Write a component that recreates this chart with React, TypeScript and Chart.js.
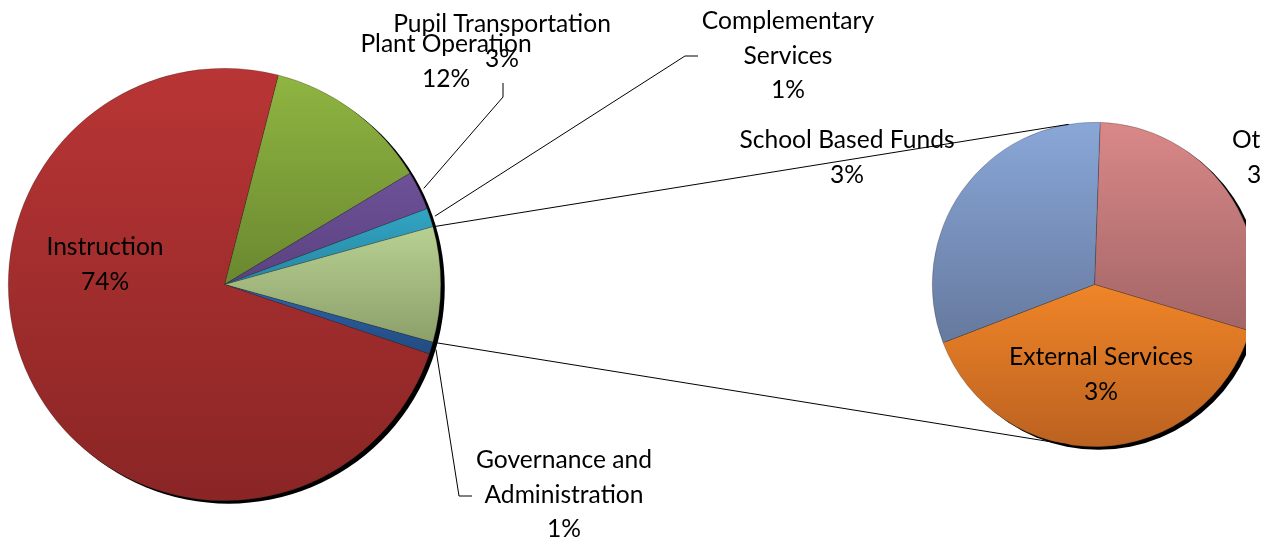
import React, { useEffect, useRef } from "react";
import { Chart, registerables } from "chart.js";

Chart.register(...registerables);

// ---------- DATA ----------
// Second pie (breakdown of the main pie's "Other" slice), clockwise from its rotation start
const subCategories = ["Other", "External Services", "School Based Funds"];
const subValues = [2.5, 3.4, 2.7];
const otherTotal = subValues.reduce((a, b) => a + b, 0);

// Main pie, clockwise starting from Plant Operation
const mainCategories = [
  "Plant Operation",
  "Pupil Transportation",
  "Complementary Services",
  "Other",
  "Governance and Administration",
  "Instruction",
];
const mainValues = [12.4, 2.9, 1.4, otherTotal, 0.9, 73.8];
const OTHER_INDEX = 3;

// ---------- STYLE ----------
const mainTopColors = ["#8fb541", "#6e5198", "#31a5c3", "#b8d192", "#2e63a8", "#b93535"];
const mainBottomColors = ["#6a8830", "#5a4280", "#2886a2", "#8c9f6a", "#224b80", "#8a2525"];
const subTopColors = ["#da8888", "#f08528", "#89a7d8"];
const subBottomColors = ["#a36566", "#bb6120", "#66799e"];

const FONT = "24.6px Lato";
const LINE_H = 34.5;
const SUB_ROTATION = 2;

// label layout (center x, first baseline y) and wrapping
const labelWraps: Record<string, string[]> = {
  "Complementary Services": ["Complementary", "Services"],
  "Governance and Administration": ["Governance and", "Administration"],
};
const mainLabelPos: (number[] | null)[] = [
  [446, 52],
  [502, 32],
  [788, 29],
  null,
  [564, 468],
  [105, 255],
];
const subLabelPos: number[][] = [
  [1264, 148],
  [1101, 365],
  [847, 148],
];
const leaderElbows: Record<number, number[][]> = {
  1: [[503, 97], [503, 83]],
  2: [[685, 56], [698, 56]],
  4: [[459, 496], [472, 496]],
};

const total = mainValues.reduce((a, b) => a + b, 0);
const pct = (v: number) => Math.round((v / total) * 100) + "%";
const mainRotation =
  90 -
  ((mainValues.slice(0, OTHER_INDEX).reduce((a, b) => a + b, 0) + mainValues[OTHER_INDEX] / 2) /
    total) *
    360;

function sliceGradient(
  c: any,
  values: number[],
  rotationDeg: number,
  tops: string[],
  bottoms: string[]
) {
  const i = c.dataIndex;
  const chart = c.chart;
  const area = chart.chartArea;
  if (!area || i === undefined) return tops[i ?? 0];
  const cy = (area.top + area.bottom) / 2;
  const r = Math.min(area.width, area.height) / 2;
  const sum = values.reduce((a, b) => a + b, 0);
  let cum = 0;
  for (let k = 0; k < i; k++) cum += values[k];
  const base = ((rotationDeg - 90) * Math.PI) / 180;
  const a0 = base + (cum / sum) * 2 * Math.PI;
  const a1 = a0 + (values[i] / sum) * 2 * Math.PI;
  const ys = [cy, cy + r * Math.sin(a0), cy + r * Math.sin(a1)];
  for (let k = Math.ceil(a0 / (Math.PI / 2)); (k * Math.PI) / 2 <= a1; k++) {
    ys.push(cy + r * Math.sin((k * Math.PI) / 2));
  }
  const y0 = Math.min(...ys);
  const y1 = Math.max(...ys);
  const g = chart.ctx.createLinearGradient(0, y0, 0, Math.max(y1, y0 + 1));
  g.addColorStop(0, tops[i]);
  g.addColorStop(1, bottoms[i]);
  return g;
}

function drawShadow(chart: any) {
  const arcs = chart.getDatasetMeta(0).data as any[];
  if (!arcs.length) return;
  const a = arcs[0];
  const ctx = chart.ctx;
  ctx.save();
  ctx.fillStyle = "#000";
  ctx.beginPath();
  ctx.arc(a.x + 4, a.y + 3, a.outerRadius, 0, Math.PI * 2);
  ctx.fill();
  ctx.restore();
}

const mainShadowPlugin = {
  id: "mainShadow",
  beforeDatasetsDraw(chart: any) {
    drawShadow(chart);
  },
};

function makeSubPlugin(getMain: () => Chart | null) {
  return {
    id: "subDecor",
    beforeDatasetsDraw(chart: any) {
      const ctx = chart.ctx;
      ctx.save();
      ctx.beginPath();
      ctx.rect(0, 0, 1246, chart.height);
      ctx.clip();
      drawShadow(chart);
    },
    afterDatasetsDraw(chart: any) {
      chart.ctx.restore();
    },
    afterDraw(chart: any) {
      const main = getMain();
      if (!main) return;
      const ctx = chart.ctx;
      const mArcs = main.getDatasetMeta(0).data as any[];
      const sArcs = chart.getDatasetMeta(0).data as any[];
      if (!mArcs.length || !sArcs.length) return;
      ctx.save();
      ctx.strokeStyle = "#000";
      ctx.lineWidth = 1;

      // connector lines (tangents from the "Other" slice edges to the second pie)
      const o = mArcs[OTHER_INDEX];
      const s = sArcs[0];
      const R = o.outerRadius;
      const r = s.outerRadius;
      [
        { ang: o.startAngle, sign: 1 },
        { ang: o.endAngle, sign: -1 },
      ].forEach(({ ang, sign }) => {
        const px = o.x + R * Math.cos(ang);
        const py = o.y + R * Math.sin(ang);
        const dx = px - s.x;
        const dy = py - s.y;
        const d = Math.hypot(dx, dy);
        const phi = Math.atan2(dy, dx);
        const alpha = Math.acos(r / d);
        const t = phi + sign * alpha;
        ctx.beginPath();
        ctx.moveTo(px, py);
        ctx.lineTo(s.x + r * Math.cos(t), s.y + r * Math.sin(t));
        ctx.stroke();
      });

      // leader lines
      Object.keys(leaderElbows).forEach((key) => {
        const i = Number(key);
        const a = mArcs[i];
        const mid = (a.startAngle + a.endAngle) / 2;
        const rr = a.outerRadius + 5;
        ctx.beginPath();
        ctx.moveTo(a.x + rr * Math.cos(mid), a.y + rr * Math.sin(mid));
        leaderElbows[i].forEach((p) => ctx.lineTo(p[0], p[1]));
        ctx.stroke();
      });

      // labels
      ctx.fillStyle = "#000";
      ctx.font = FONT;
      ctx.textAlign = "center";
      ctx.textBaseline = "alphabetic";
      const drawLabel = (name: string, value: number, pos: number[] | null) => {
        if (!pos) return;
        const lines = [...(labelWraps[name] || [name]), pct(value)];
        lines.forEach((ln, k) => ctx.fillText(ln, pos[0], pos[1] + k * LINE_H));
      };
      mainCategories.forEach((n, i) => drawLabel(n, mainValues[i], mainLabelPos[i]));
      subCategories.forEach((n, i) => drawLabel(n, subValues[i], subLabelPos[i]));
      ctx.restore();
    },
  };
}

export default function App() {
  const mainRef = useRef<HTMLCanvasElement>(null);
  const subRef = useRef<HTMLCanvasElement>(null);

  useEffect(() => {
    let mainChart: Chart | null = null;
    mainChart = new Chart(mainRef.current!, {
      type: "pie",
      data: {
        labels: mainCategories,
        datasets: [
          {
            data: mainValues,
            backgroundColor: (c: any) =>
              sliceGradient(c, mainValues, mainRotation, mainTopColors, mainBottomColors),
            borderWidth: 0.5,
            borderColor: "rgba(40,40,40,0.5)",
            hoverOffset: 0,
            offset: 0,
          } as any,
        ],
      },
      options: {
        responsive: false,
        maintainAspectRatio: false,
        animation: false,
        events: [],
        rotation: mainRotation,
        layout: { padding: { left: 8, right: 821, top: 68, bottom: 41 } },
        plugins: { legend: { display: false }, tooltip: { enabled: false } },
      },
      plugins: [mainShadowPlugin],
    });

    const subChart = new Chart(subRef.current!, {
      type: "pie",
      data: {
        labels: subCategories,
        datasets: [
          {
            data: subValues,
            backgroundColor: (c: any) =>
              sliceGradient(c, subValues, SUB_ROTATION, subTopColors, subBottomColors),
            borderWidth: 0.5,
            borderColor: "rgba(40,40,40,0.5)",
            hoverOffset: 0,
            offset: 0,
          } as any,
        ],
      },
      options: {
        responsive: false,
        maintainAspectRatio: false,
        animation: false,
        events: [],
        rotation: SUB_ROTATION,
        layout: { padding: { left: 932, right: 5, top: 122, bottom: 95 } },
        plugins: { legend: { display: false }, tooltip: { enabled: false } },
      },
      plugins: [makeSubPlugin(() => mainChart)],
    });

    return () => {
      subChart.destroy();
      mainChart?.destroy();
    };
  }, []);

  const cs: React.CSSProperties = {
    position: "absolute",
    left: 0,
    top: 0,
    width: 1262,
    height: 542,
  };
  return (
    <div
      style={{
        position: "fixed",
        left: 0,
        top: 0,
        width: 1262,
        height: 542,
        background: "#fff",
        overflow: "hidden",
      }}
    >
      <canvas ref={mainRef} width={1262} height={542} style={cs} />
      <canvas ref={subRef} width={1262} height={542} style={cs} />
    </div>
  );
}
